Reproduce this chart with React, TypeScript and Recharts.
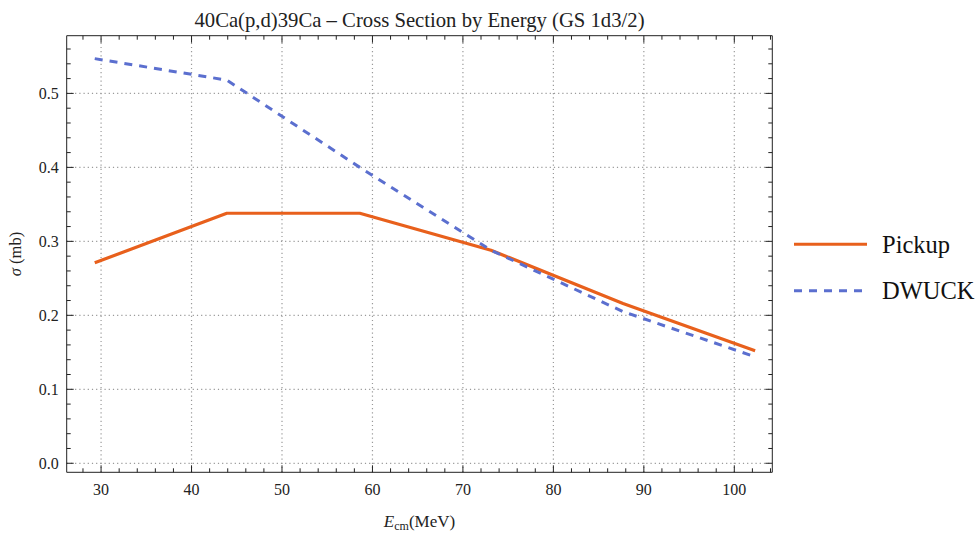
import React from "react";
import { LineChart, Line, XAxis, YAxis, ReferenceLine } from "recharts";

// Centre-of-mass energies (MeV)
const energies = [29.3, 43.9, 58.6, 73.1, 87.7, 102.3];
// Cross sections (mb)
const pickup = [0.271, 0.338, 0.338, 0.288, 0.216, 0.152];
const dwuck = [0.547, 0.518, 0.4, 0.288, 0.205, 0.144];

const xMajor = [30, 40, 50, 60, 70, 80, 90, 100];
const xMinor = [28, 32, 34, 36, 38, 42, 44, 46, 48, 52, 54, 56, 58, 62, 64, 66, 68, 72, 74, 76, 78, 82, 84, 86, 88, 92, 94, 96, 98, 102, 104];
const yMajor = [0, 0.1, 0.2, 0.3, 0.4, 0.5];
const yMinor = [0.02, 0.04, 0.06, 0.08, 0.12, 0.14, 0.16, 0.18, 0.22, 0.24, 0.26, 0.28, 0.32, 0.34, 0.36, 0.38, 0.42, 0.44, 0.46, 0.48, 0.52, 0.54, 0.56];
const yMajorLabels = ["0.0", "0.1", "0.2", "0.3", "0.4", "0.5"];

const TITLE = "40Ca(p,d)39Ca \u2013 Cross Section by Energy (GS 1d3/2)";
const SERIES = [
  { key: "pickup", name: "Pickup", color: "#E8601C", dash: undefined as string | undefined },
  { key: "dwuck", name: "DWUCK", color: "#5B6FCF", dash: "8 7" },
];

const data = energies.map((e, i) => ({ e, pickup: pickup[i], dwuck: dwuck[i] }));

const W = 979;
const H = 534;
const PLOT = { left: 66.7, top: 35.7, right: 772.3, bottom: 472.3 };
const AX = 1; // thickness reserved by each frame axis
const FONT = "'Liberation Serif', 'DejaVu Serif', serif";
const MAJOR_LEN = 7;
const MINOR_LEN = 4;

const allX = [...xMajor, ...xMinor].sort((a, b) => a - b);
const allY = [...yMajor, ...yMinor].sort((a, b) => a - b);

const isMajor = (list: number[], v: number) => list.some((m) => Math.abs(m - v) < 1e-9);

const makeTick = (side: "bottom" | "top" | "left" | "right") => (props: any) => {
  const { x, y, payload } = props;
  const v = payload.value as number;
  const major = isMajor(side === "bottom" || side === "top" ? xMajor : yMajor, v);
  const len = major ? MAJOR_LEN : MINOR_LEN;
  let line;
  let label = null;
  if (side === "bottom") {
    line = <line x1={x} y1={y} x2={x} y2={y - len} stroke="#222" strokeWidth={1} />;
    if (major)
      label = (
        <text x={x} y={y + 23} textAnchor="middle" fontFamily={FONT} fontSize={16} fill="#222">
          {String(v)}
        </text>
      );
  } else if (side === "top") {
    line = <line x1={x} y1={y} x2={x} y2={y + len} stroke="#222" strokeWidth={1} />;
  } else if (side === "left") {
    line = <line x1={x} y1={y} x2={x + len} y2={y} stroke="#222" strokeWidth={1} />;
    if (major) {
      const idx = yMajor.findIndex((m) => Math.abs(m - v) < 1e-9);
      label = (
        <text x={x - 8} y={y + 5.5} textAnchor="end" fontFamily={FONT} fontSize={16} fill="#222">
          {yMajorLabels[idx]}
        </text>
      );
    }
  } else {
    line = <line x1={x} y1={y} x2={x - len} y2={y} stroke="#222" strokeWidth={1} />;
  }
  return (
    <g>
      {line}
      {label}
    </g>
  );
};

export default function App() {
  const legendX = 794;
  const legendRows = [244.3, 290.7];
  return (
    <div style={{ position: "absolute", left: 0, top: 0, width: W, height: H, background: "#fff" }}>
      <LineChart
        width={W}
        height={H}
        data={data}
        margin={{
          top: PLOT.top - AX,
          left: PLOT.left - AX,
          right: W - PLOT.right - AX,
          bottom: H - PLOT.bottom - AX,
        }}
      >
        <XAxis
          xAxisId="b"
          dataKey="e"
          type="number"
          domain={[26.2, 104.2]}
          allowDataOverflow
          ticks={allX}
          interval={0}
          height={AX}
          tickSize={0}
          tickMargin={0}
          tickLine={false}
          axisLine={{ stroke: "#222", strokeWidth: 1 }}
          tick={makeTick("bottom")}
        />
        <XAxis
          xAxisId="t"
          orientation="top"
          dataKey="e"
          type="number"
          domain={[26.2, 104.2]}
          allowDataOverflow
          ticks={allX}
          interval={0}
          height={AX}
          tickSize={0}
          tickMargin={0}
          tickLine={false}
          axisLine={{ stroke: "#222", strokeWidth: 1 }}
          tick={makeTick("top")}
        />
        <YAxis
          yAxisId="l"
          type="number"
          domain={[-0.0122, 0.578]}
          allowDataOverflow
          ticks={allY}
          interval={0}
          width={AX}
          tickSize={0}
          tickMargin={0}
          tickLine={false}
          axisLine={{ stroke: "#222", strokeWidth: 1 }}
          tick={makeTick("left")}
        />
        <YAxis
          yAxisId="r"
          orientation="right"
          type="number"
          domain={[-0.0122, 0.578]}
          allowDataOverflow
          ticks={allY}
          interval={0}
          width={AX}
          tickSize={0}
          tickMargin={0}
          tickLine={false}
          axisLine={{ stroke: "#222", strokeWidth: 1 }}
          tick={makeTick("right")}
        />
        {xMajor.map((v) => (
          <ReferenceLine
            key={"gx" + v}
            x={v}
            xAxisId="b"
            yAxisId="l"
            stroke="#9a9a9a"
            strokeWidth={1.2}
            strokeDasharray="1.2 3"
          />
        ))}
        {yMajor.map((v) => (
          <ReferenceLine
            key={"gy" + v}
            y={v}
            xAxisId="b"
            yAxisId="l"
            stroke="#9a9a9a"
            strokeWidth={1.2}
            strokeDasharray="1.2 3"
          />
        ))}
        <Line
          xAxisId="b"
          yAxisId="l"
          dataKey="pickup"
          name="Pickup"
          stroke={SERIES[0].color}
          strokeWidth={3.2}
          dot={false}
          activeDot={false}
          isAnimationActive={false}
          strokeLinejoin="round"
        />
        <Line
          xAxisId="b"
          yAxisId="l"
          dataKey="dwuck"
          name="DWUCK"
          stroke={SERIES[1].color}
          strokeWidth={3}
          strokeDasharray={SERIES[1].dash}
          dot={false}
          activeDot={false}
          isAnimationActive={false}
        />
      </LineChart>
      <svg
        width={W}
        height={H}
        style={{ position: "absolute", left: 0, top: 0, pointerEvents: "none" }}
      >
        <text x={419.5} y={26.5} textAnchor="middle" fontFamily={FONT} fontSize={20.7} fill="#222">
          {TITLE}
        </text>
        <text
          transform="translate(21, 254) rotate(-90)"
          textAnchor="middle"
          fontFamily={FONT}
          fontSize={16.5}
          fill="#222"
        >
          <tspan fontStyle="italic">{"\u03C3"}</tspan>
          <tspan>{" (mb)"}</tspan>
        </text>
        <text x={419.5} y={526.5} textAnchor="middle" fontFamily={FONT} fontSize={17} fill="#222">
          <tspan fontStyle="italic">E</tspan>
          <tspan fontSize={12} dy={3}>cm</tspan>
          <tspan dy={-3}>(MeV)</tspan>
        </text>
        {SERIES.map((s, i) => (
          <g key={s.key}>
            <line
              x1={legendX}
              y1={legendRows[i]}
              x2={legendX + 73}
              y2={legendRows[i]}
              stroke={s.color}
              strokeWidth={3}
              strokeDasharray={s.dash}
            />
            <text x={882} y={legendRows[i] + 8.5} fontFamily={FONT} fontSize={24.5} fill="#111">
              {s.name}
            </text>
          </g>
        ))}
      </svg>
    </div>
  );
}
